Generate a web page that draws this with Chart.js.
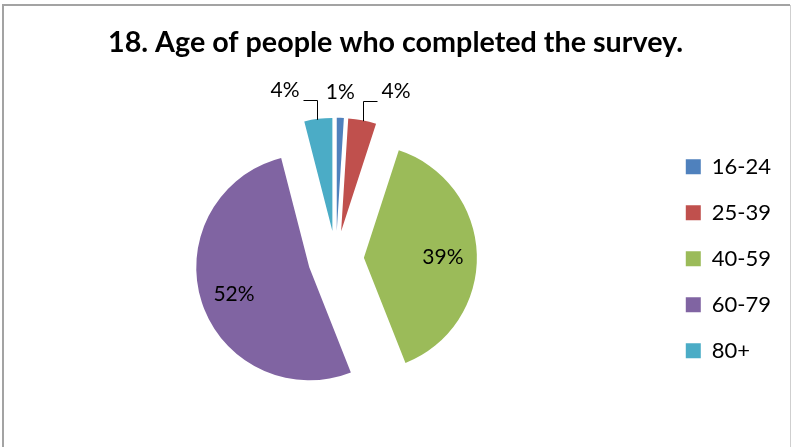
<!DOCTYPE html>
<html>
<head>
<meta charset="utf-8">
<title>Age of people who completed the survey</title>
<script src="https://cdn.jsdelivr.net/npm/chart.js@4.4.1/dist/chart.umd.min.js"></script>
<style>
  html, body { margin: 0; padding: 0; background: #fff; }
  #wrap { width: 792px; height: 447px; position: relative; }
</style>
</head>
<body>
<div id="wrap"><canvas id="ageChart"></canvas></div>
<script>
const categories = ['16-24', '25-39', '40-59', '60-79', '80+'];
const shares     = [1, 4, 39, 52, 4]; // percent of respondents
const titleText  = '18. Age of people who completed the survey.';

const GAP = 28; // every slice is pulled this far out of the centre

/* frame around the whole chart object */
const frame = {
  id: 'frame',
  beforeDraw(chart) {
    const ctx = chart.ctx;
    ctx.save();
    ctx.fillStyle = '#fff';
    ctx.fillRect(0, 0, chart.width, chart.height);
    ctx.strokeStyle = '#a3a3a3';
    ctx.lineWidth = 2;
    ctx.beginPath();
    ctx.moveTo(3, chart.height + 2);
    ctx.lineTo(3, 5);
    ctx.lineTo(790, 5);
    ctx.stroke();
    ctx.strokeStyle = '#cfcfcf';
    ctx.lineWidth = 1;
    ctx.beginPath();
    ctx.moveTo(790.5, 5);
    ctx.lineTo(790.5, chart.height + 2);
    ctx.stroke();
    ctx.restore();
  }
};

/* exploded pie: draw each arc shifted along its own mid angle.
   (the built-in `offset` also grows the radius of some slices) */
const explode = {
  id: 'explode',
  beforeDatasetDraw(chart, args) {
    const ctx = chart.ctx;
    args.meta.data.forEach(arc => {
      const mid = (arc.startAngle + arc.endAngle) / 2;
      ctx.save();
      ctx.translate(Math.cos(mid) * GAP, Math.sin(mid) * GAP);
      arc.draw(ctx, chart.chartArea);
      ctx.restore();
    });
    return false;
  }
};

/* percentage labels, small slices get a leader line */
const sliceLabels = {
  id: 'sliceLabels',
  afterDatasetsDraw(chart) {
    const ctx = chart.ctx;
    const meta = chart.getDatasetMeta(0);
    ctx.save();
    ctx.font = '21px Lato';
    ctx.fillStyle = '#000';
    ctx.strokeStyle = '#000';
    ctx.lineWidth = 1;
    meta.data.forEach((arc, i) => {
      const v = shares[i];
      const p = arc.getProps(['x', 'y', 'startAngle', 'endAngle', 'outerRadius'], true);
      const mid = (p.startAngle + p.endAngle) / 2;
      const cos = Math.cos(mid), sin = Math.sin(mid);
      const ax = p.x + cos * GAP, ay = p.y + sin * GAP;
      const text = v + '%';

      if (v >= 10) {
        ctx.textAlign = 'center';
        ctx.textBaseline = 'middle';
        ctx.fillText(text, ax + cos * p.outerRadius * 0.7, ay + sin * p.outerRadius * 0.7 + 2);
        return;
      }
      const ox = ax + cos * p.outerRadius, oy = ay + sin * p.outerRadius;
      if (v < 2) {
        ctx.textAlign = 'center';
        ctx.textBaseline = 'middle';
        ctx.fillText(text, ox, oy - 26);
        return;
      }
      const side = cos >= 0 ? 1 : -1;
      const ex = Math.round(ox + side) + 0.5, ey = Math.round(oy - 19) + 0.5;
      const hx = ex + side * 14;
      ctx.beginPath();
      ctx.moveTo(ex, oy + 1);
      ctx.lineTo(ex, ey);
      ctx.lineTo(hx, ey);
      ctx.stroke();
      ctx.textAlign = side > 0 ? 'left' : 'right';
      ctx.textBaseline = 'middle';
      ctx.fillText(text, hx + side * 4, ey - 10);
    });
    ctx.restore();
  }
};

new Chart(document.getElementById('ageChart'), {
  type: 'pie',
  data: {
    labels: categories,
    datasets: [{
      data: shares,
      backgroundColor: ['#4f81bd', '#c0504d', '#9bbb59', '#8064a2', '#4bacc6'],
      borderWidth: 0,
      radius: 113
    }]
  },
  options: {
    responsive: true,
    maintainAspectRatio: false,
    animation: false,
    layout: { padding: { left: 10, right: 11, top: 0, bottom: 0 } },
    plugins: {
      title: {
        display: true,
        text: titleText,
        color: '#000',
        font: { family: 'Lato', size: 28.7, weight: 'bold' },
        padding: { top: 26, bottom: 10 }
      },
      legend: {
        position: 'right',
        fullSize: false,
        labels: {
          color: '#000',
          font: { family: 'Lato', size: 22 },
          boxWidth: 15,
          boxHeight: 15,
          padding: 24
        }
      },
      tooltip: { enabled: false }
    }
  },
  plugins: [frame, explode, sliceLabels]
});
</script>
</body>
</html>
